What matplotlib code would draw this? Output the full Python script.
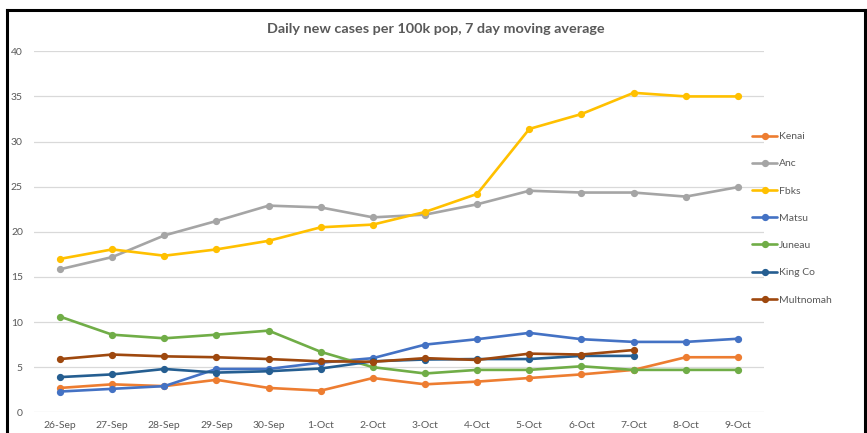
import matplotlib
matplotlib.use('Agg')
import matplotlib.pyplot as plt
from matplotlib.lines import Line2D

# Data
dates = ['26-Sep', '27-Sep', '28-Sep', '29-Sep', '30-Sep', '1-Oct', '2-Oct',
         '3-Oct', '4-Oct', '5-Oct', '6-Oct', '7-Oct', '8-Oct', '9-Oct']

kenai = [2.7, 3.1, 2.9, 3.6, 2.7, 2.4, 3.8, 3.1, 3.4, 3.8, 4.2, 4.7, 6.1, 6.1]
anc = [15.85, 17.2, 19.6, 21.2, 22.9, 22.7, 21.6, 21.9, 23.05, 24.55, 24.35, 24.35, 23.9, 24.95]
fbks = [17.0, 18.05, 17.35, 18.05, 19.0, 20.5, 20.8, 22.2, 24.2, 31.4, 33.05, 35.4, 35.0, 35.0]
matsu = [2.3, 2.6, 2.9, 4.8, 4.8, 5.5, 6.0, 7.5, 8.1, 8.8, 8.1, 7.8, 7.8, 8.15]
juneau = [10.6, 8.6, 8.2, 8.6, 9.05, 6.7, 5.0, 4.3, 4.7, 4.7, 5.1, 4.7, 4.7, 4.7]
king_co = [3.9, 4.2, 4.8, 4.4, 4.55, 4.85, 5.65, 5.85, 5.9, 5.9, 6.25, 6.25]
multnomah = [5.9, 6.4, 6.2, 6.1, 5.9, 5.65, 5.6, 6.0, 5.8, 6.5, 6.4, 6.9]

series = [
    ('Kenai', kenai, '#ED7D31'),
    ('Anc', anc, '#A5A5A5'),
    ('Fbks', fbks, '#FFC000'),
    ('Matsu', matsu, '#4472C4'),
    ('Juneau', juneau, '#70AD47'),
    ('King Co', king_co, '#255E91'),
    ('Multnomah', multnomah, '#9E480E'),
]

plt.rcParams['font.family'] = ['Lato', 'DejaVu Sans']

fig = plt.figure(figsize=(8.67, 4.33), dpi=100)
ax = fig.add_axes([34 / 867, 1 - 412.3 / 433, 730 / 867, 361 / 433])

for name, vals, color in series:
    ax.plot(range(len(vals)), vals, color=color, lw=1.9, marker='o',
            markersize=4.2, label=name, solid_capstyle='round')

ax.set_xlim(-0.5, len(dates) - 0.5)
ax.set_ylim(0, 40)
ax.set_yticks(range(0, 41, 5))
ax.set_xticks(range(len(dates)))
ax.set_xticklabels(dates)
ax.tick_params(length=0, labelsize=7.5, labelcolor='#595959')
ax.tick_params(axis='y', pad=8)
ax.tick_params(axis='x', pad=6)
ax.grid(axis='y', color='#D9D9D9', lw=0.9)
ax.set_axisbelow(True)
for s in ax.spines.values():
    s.set_visible(False)

fig.text(436 / 867, 1 - 29 / 433, 'Daily new cases per 100k pop, 7 day moving average',
         ha='center', va='center', fontsize=10.4, fontweight='bold', color='#595959')

leg = ax.legend(loc='upper left', bbox_to_anchor=(752 / 867, 1 - 132 / 433),
                bbox_transform=fig.transFigure, frameon=False, fontsize=7.5,
                labelspacing=1.72, handlelength=2.4, handletextpad=0.15,
                borderpad=0, borderaxespad=0)
for t in leg.get_texts():
    t.set_color('#595959')

# black frame around the chart
fig.add_artist(Line2D([7 / 867, 865 / 867], [1 - 10 / 433, 1 - 10 / 433],
                      transform=fig.transFigure, color='black', lw=2.2))
fig.add_artist(Line2D([7 / 867, 7 / 867], [0, 1 - 10 / 433],
                      transform=fig.transFigure, color='black', lw=2.2))
fig.add_artist(Line2D([865 / 867, 865 / 867], [0, 1 - 10 / 433],
                      transform=fig.transFigure, color='black', lw=2.2))

fig.savefig('out.png', dpi=100)
